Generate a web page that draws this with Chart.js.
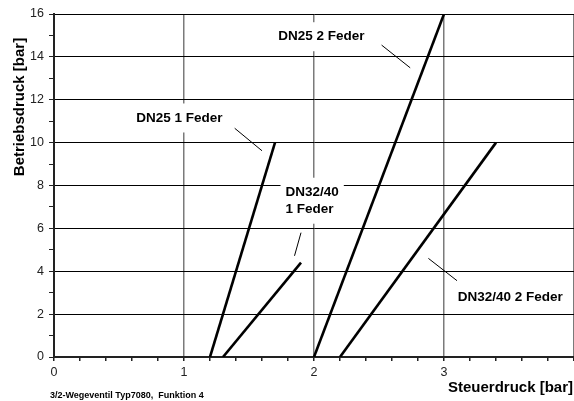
<!DOCTYPE html>
<html lang="de">
<head>
  <meta charset="UTF-8" />
  <title>Typ7080 Funktion 4</title>
  <script src="https://cdn.jsdelivr.net/npm/chart.js"></script>
  <style>
    html, body { margin: 0; padding: 0; background: #fff; overflow: hidden; }
    #wrap { width: 578px; height: 401px; }
  </style>
</head>
<body>
<div id="wrap"><canvas id="chart" width="578" height="401"></canvas></div>
<script>
  // Kennlinien: Steuerdruck (x) -> Betriebsdruck (y)
  const dn25_1_x = [1.2, 1.7];
  const dn25_1_y = [0, 10];
  const dn3240_1_x = [1.3, 1.9];
  const dn3240_1_y = [0, 4.4];
  const dn25_2_x = [2.0, 3.0];
  const dn25_2_y = [0, 16];
  const dn3240_2_x = [2.2, 3.4];
  const dn3240_2_y = [0, 10];

  // Hinweislinien zu den Beschriftungen
  const leader_dn25_1 = [[1.39, 10.67], [1.60, 9.62]];
  const leader_dn3240_1 = [[1.90, 5.80], [1.85, 4.72]];
  const leader_dn25_2 = [[2.52, 14.55], [2.74, 13.49]];
  const leader_dn3240_2 = [[2.88, 4.60], [3.10, 3.56]];

  // Beschriftungen (Text, x, y in Datenwerten)
  const labelTexts = [['DN25 1 Feder'], ['DN32/40', '1 Feder'], ['DN25 2 Feder'], ['DN32/40 2 Feder']];
  const labelX = [0.964, 1.781, 2.057, 3.509];
  const labelY = [11.15, 7.29, 14.94, 2.78];
  const labelAlign = ['center', 'left', 'center', 'center'];

  const xTitle = 'Steuerdruck [bar]';
  const yTitle = 'Betriebsdruck [bar]';
  const footer = '3/2-Wegeventil Typ7080,  Funktion 4';

  const pts = (xs, ys) => xs.map((x, i) => ({ x: x, y: ys[i] }));
  const seg = s => s.map(p => ({ x: p[0], y: p[1] }));
  const isInt = v => Math.abs(v - Math.round(v)) < 1e-6;

  const curve = (d) => ({ data: d, showLine: true, borderColor: '#000', borderWidth: 2.6, pointRadius: 0, fill: false });
  const lead = (d) => ({ data: d, showLine: true, borderColor: '#000', borderWidth: 1, pointRadius: 0, fill: false });

  const textPlugin = {
    id: 'texts',
    afterDraw(chart) {
      const c = chart.ctx;
      const xs = chart.scales.x, ys = chart.scales.y;
      c.save();
      c.fillStyle = '#000';
      c.textBaseline = 'middle';
      c.font = 'bold 13.5px "Liberation Sans", Arial, sans-serif';
      labelTexts.forEach((lines, i) => {
        const px = xs.getPixelForValue(labelX[i]);
        const py = ys.getPixelForValue(labelY[i]);
        const lh = 17;
        const w = Math.max(...lines.map(t => c.measureText(t).width));
        const h = lh * lines.length;
        const left = labelAlign[i] === 'center' ? px - w / 2 : px;
        c.fillStyle = '#fff';
        c.fillRect(left - 5, py - h / 2 - 6, w + 10, h + 12);
        c.fillStyle = '#000';
        c.textAlign = 'left';
        lines.forEach((t, j) => {
          c.fillText(t, left, py - h / 2 + lh / 2 + j * lh);
        });
      });
      // Achsentitel
      c.font = 'bold 15px "Liberation Sans", Arial, sans-serif';
      c.textAlign = 'right';
      c.fillText(xTitle, 573, 388);
      c.save();
      c.translate(20, 107);
      c.rotate(-Math.PI / 2);
      c.textAlign = 'center';
      c.fillText(yTitle, 0, 0);
      c.restore();
      c.font = 'bold 9px "Liberation Sans", Arial, sans-serif';
      c.textAlign = 'left';
      c.fillText(footer, 50, 396);
      c.restore();
    }
  };

  new Chart(document.getElementById('chart'), {
    type: 'scatter',
    data: {
      datasets: [
        curve(pts(dn25_1_x, dn25_1_y)),
        curve(pts(dn3240_1_x, dn3240_1_y)),
        curve(pts(dn25_2_x, dn25_2_y)),
        curve(pts(dn3240_2_x, dn3240_2_y)),
        lead(seg(leader_dn25_1)),
        lead(seg(leader_dn3240_1)),
        lead(seg(leader_dn25_2)),
        lead(seg(leader_dn3240_2))
      ]
    },
    options: {
      responsive: false,
      animation: false,
      layout: { padding: { top: 14, left: 0, right: 0, bottom: 0 } },
      plugins: { legend: { display: false }, tooltip: { enabled: false } },
      scales: {
        x: {
          type: 'linear', min: 0, max: 4,
          afterFit: s => { s.height = 44; },
          border: { display: true, color: '#222', width: 2 },
          grid: {
            color: ctx => ctx.tick && isInt(ctx.tick.value) ? '#7a7a7a' : 'rgba(0,0,0,0)',
            lineWidth: 1.5,
            tickColor: '#222',
            tickLength: 4
          },
          ticks: {
            stepSize: 0.2, autoSkip: false, maxRotation: 0, padding: 4,
            color: '#222',
            font: { family: '"Liberation Sans", Arial, sans-serif', size: 12.5 },
            callback: v => (isInt(v) && v < 3.5) ? String(Math.round(v)) : ''
          }
        },
        y: {
          type: 'linear', min: 0, max: 16,
          afterFit: s => { s.width = 54; },
          border: { display: true, color: '#222', width: 2 },
          grid: {
            color: ctx => ctx.tick && Math.round(ctx.tick.value) % 2 === 0 ? '#000' : 'rgba(0,0,0,0)',
            lineWidth: 1,
            tickColor: '#222',
            tickLength: 5
          },
          ticks: {
            stepSize: 1, autoSkip: false, padding: 5,
            color: '#222',
            font: { family: '"Liberation Sans", Arial, sans-serif', size: 12.5 },
            callback: v => Math.round(v) % 2 === 0 ? String(v) : ''
          }
        }
      }
    },
    plugins: [textPlugin]
  });
</script>
</body>
</html>
